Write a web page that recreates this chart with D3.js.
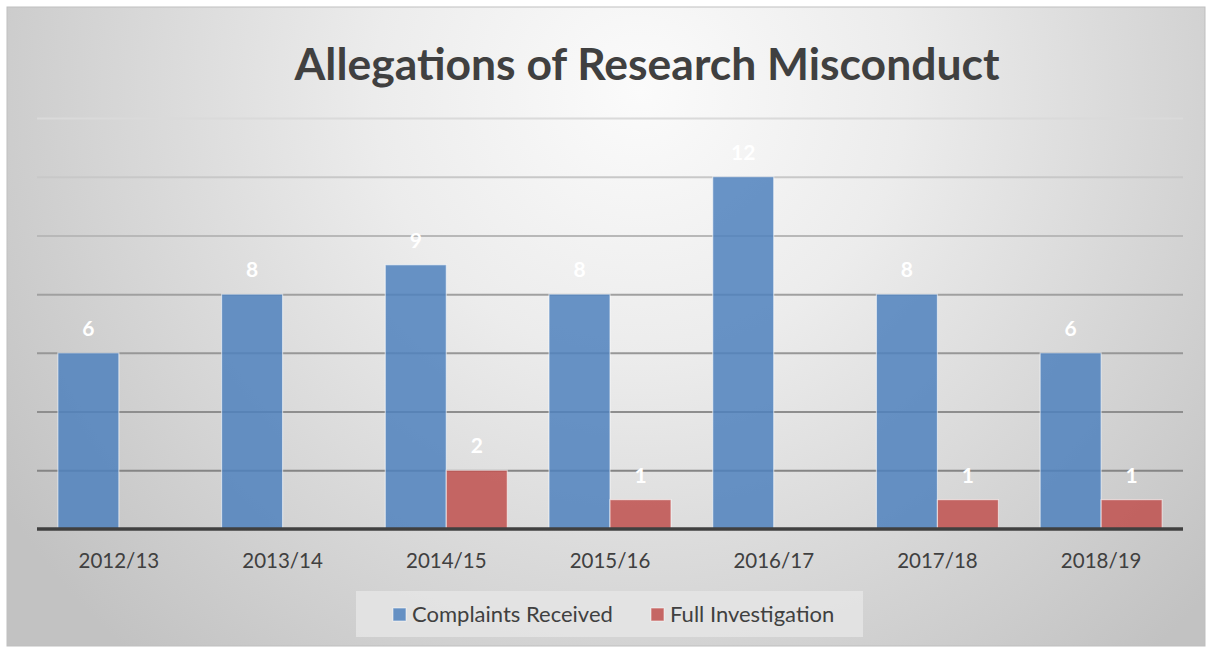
<!DOCTYPE html>
<html>
<head>
<meta charset="utf-8">
<script src="https://cdn.jsdelivr.net/npm/d3@7"></script>
<style>
  html, body { margin: 0; padding: 0; background: #ffffff; }
  svg { display: block; }
</style>
</head>
<body>
<svg id="chart" width="1210" height="647"></svg>
<script>
// ---- Data ----
const title = "Allegations of Research Misconduct";
const categories = ["2012/13", "2013/14", "2014/15", "2015/16", "2016/17", "2017/18", "2018/19"];
const seriesNames = ["Complaints Received", "Full Investigation"];
const complaintsReceived = [6, 8, 9, 8, 12, 8, 6];
const fullInvestigation = [null, null, 2, 1, null, 1, 1];
const yTicks = [0, 2, 4, 6, 8, 10, 12, 14];
const seriesColors = ["#4f81bd", "#c0504d"];

// ---- Layout ----
const frame = { x: 7, y: 7, w: 1198, h: 639 };
const plot = { left: 37, right: 1183, top: 118, bottom: 529 };
const FONT = "Lato, 'Open Sans', sans-serif";

const svg = d3.select("#chart");
const defs = svg.append("defs");

const bg = defs.append("radialGradient")
  .attr("id", "bgGrad")
  .attr("gradientUnits", "userSpaceOnUse")
  .attr("cx", 640).attr("cy", 90).attr("r", 760)
  .attr("fx", 640).attr("fy", 90);
bg.append("stop").attr("offset", "0%").attr("stop-color", "#fbfbfb");
bg.append("stop").attr("offset", "35%").attr("stop-color", "#ececec");
bg.append("stop").attr("offset", "100%").attr("stop-color", "#c2c2c2");

svg.append("rect")
  .attr("x", frame.x).attr("y", frame.y)
  .attr("width", frame.w).attr("height", frame.h)
  .attr("fill", "url(#bgGrad)")
  .attr("stroke", "#bfbfbf").attr("stroke-width", 1);

// ---- Scales ----
const x0 = d3.scaleBand().domain(categories).range([plot.left, plot.right]).padding(0);
const x1 = d3.scaleBand().domain(seriesNames).range([0, x0.bandwidth()]).paddingInner(0).paddingOuter(0.342);
const y = d3.scaleLinear().domain([0, 14]).range([plot.bottom, plot.top]);

// ---- Gridlines ----
const gridColor = d3.scaleLinear().domain([14, 12, 10, 8, 2]).range(["#dadada", "#c8c8c8", "#b8b8b8", "#a0a0a0", "#858585"]);
const grid = svg.append("g").attr("class", "grid")
  .attr("transform", `translate(${plot.left},0)`)
  .call(d3.axisLeft(y).tickValues(yTicks.filter(t => t > 0)).tickSize(-(plot.right - plot.left)).tickFormat(""));
grid.select(".domain").remove();
grid.selectAll(".tick line")
  .attr("stroke", d => gridColor(d))
  .attr("stroke-width", 2);

// ---- Bars ----
const seriesData = [complaintsReceived, fullInvestigation];
const rows = categories.map((c, i) => ({
  cat: c,
  values: seriesNames.map((s, j) => ({ series: s, idx: j, value: seriesData[j][i] }))
}));

const groups = svg.append("g").selectAll("g")
  .data(rows).join("g")
  .attr("transform", d => `translate(${x0(d.cat)},0)`);

groups.selectAll("rect")
  .data(d => d.values.filter(v => v.value != null))
  .join("rect")
  .attr("x", d => x1(d.series))
  .attr("width", x1.bandwidth())
  .attr("y", d => y(d.value))
  .attr("height", d => y(0) - y(d.value))
  .attr("fill", d => seriesColors[d.idx])
  .attr("fill-opacity", 0.85)
  .attr("stroke", "#ffffff")
  .attr("stroke-opacity", 0.55)
  .attr("stroke-width", 1.2);

groups.selectAll("text")
  .data(d => d.values.filter(v => v.value != null))
  .join("text")
  .attr("x", d => x1(d.series) + x1.bandwidth() / 2)
  .attr("y", d => y(d.value) - 17)
  .attr("text-anchor", "middle")
  .attr("font-family", FONT)
  .attr("font-weight", "bold")
  .attr("font-size", 21)
  .attr("fill", "#ffffff")
  .text(d => d.value);

// ---- X axis ----
svg.append("line")
  .attr("x1", plot.left).attr("x2", plot.right)
  .attr("y1", y(0)).attr("y2", y(0))
  .attr("stroke", "#404040").attr("stroke-width", 3.5);

const xAxis = svg.append("g")
  .attr("transform", `translate(0,${y(0)})`)
  .call(d3.axisBottom(x0).tickSize(0).tickPadding(0));
xAxis.select(".domain").remove();
xAxis.selectAll("text")
  .attr("dy", 0)
  .attr("y", 39)
  .attr("font-family", FONT)
  .attr("font-size", 20.5)
  .attr("fill", "#404040");

// ---- Title ----
const t = svg.append("text")
  .attr("x", 647).attr("y", 80)
  .attr("text-anchor", "middle")
  .attr("font-family", FONT)
  .attr("font-weight", "bold")
  .attr("font-size", 42)
  .attr("fill", "#404040")
  .text(title);
const tw = t.node().getComputedTextLength();
t.attr("font-size", 42 * 705 / tw);

// ---- Legend ----
const legend = svg.append("g");
legend.append("rect")
  .attr("x", 356).attr("y", 591).attr("width", 507).attr("height", 46)
  .attr("fill", "#e6e6e6").attr("fill-opacity", 0.8);

const legendX = [393, 651];
const items = legend.selectAll("g.item").data(seriesNames).join("g")
  .attr("class", "item")
  .attr("transform", (d, i) => `translate(${legendX[i]},608)`);
items.append("rect")
  .attr("width", 13).attr("height", 13)
  .attr("fill", (d, i) => seriesColors[i]).attr("fill-opacity", 0.85)
  .attr("stroke", "#ffffff").attr("stroke-opacity", 0.55);
items.append("text")
  .attr("x", 19).attr("y", 13.5)
  .attr("font-family", FONT)
  .attr("font-size", 22)
  .attr("fill", "#404040")
  .text(d => d);
</script>
</body>
</html>
